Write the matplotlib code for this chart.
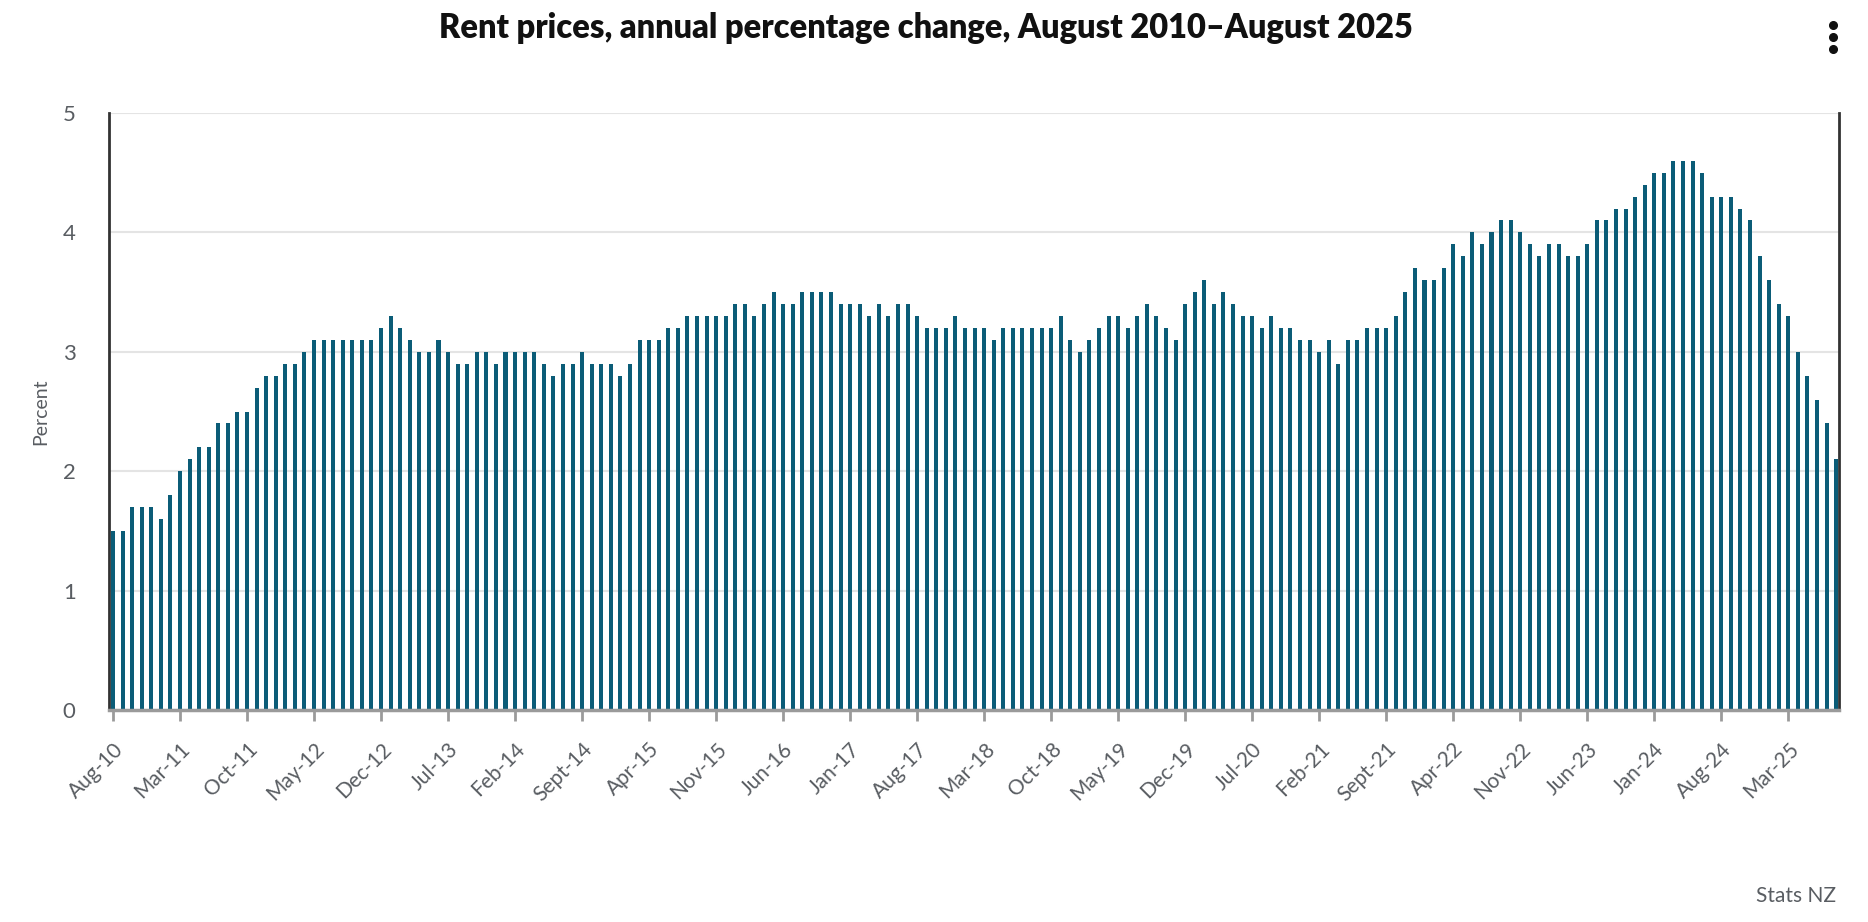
import matplotlib
matplotlib.use("Agg")
import matplotlib.pyplot as plt
from matplotlib.lines import Line2D

# Rent prices, annual % change, monthly Aug-2010 .. Aug-2025
rent_change = [
    1.5, 1.5, 1.7, 1.7, 1.7, 1.6, 1.8, 2.0, 2.1, 2.2, 2.2, 2.4, 2.4, 2.5, 2.5, 2.7,
    2.8, 2.8, 2.9, 2.9, 3.0, 3.1, 3.1, 3.1, 3.1, 3.1, 3.1, 3.1, 3.2, 3.3, 3.2, 3.1,
    3.0, 3.0, 3.1, 3.0, 2.9, 2.9, 3.0, 3.0, 2.9, 3.0, 3.0, 3.0, 3.0, 2.9, 2.8, 2.9,
    2.9, 3.0, 2.9, 2.9, 2.9, 2.8, 2.9, 3.1, 3.1, 3.1, 3.2, 3.2, 3.3, 3.3, 3.3, 3.3,
    3.3, 3.4, 3.4, 3.3, 3.4, 3.5, 3.4, 3.4, 3.5, 3.5, 3.5, 3.5, 3.4, 3.4, 3.4, 3.3,
    3.4, 3.3, 3.4, 3.4, 3.3, 3.2, 3.2, 3.2, 3.3, 3.2, 3.2, 3.2, 3.1, 3.2, 3.2, 3.2,
    3.2, 3.2, 3.2, 3.3, 3.1, 3.0, 3.1, 3.2, 3.3, 3.3, 3.2, 3.3, 3.4, 3.3, 3.2, 3.1,
    3.4, 3.5, 3.6, 3.4, 3.5, 3.4, 3.3, 3.3, 3.2, 3.3, 3.2, 3.2, 3.1, 3.1, 3.0, 3.1,
    2.9, 3.1, 3.1, 3.2, 3.2, 3.2, 3.3, 3.5, 3.7, 3.6, 3.6, 3.7, 3.9, 3.8, 4.0, 3.9,
    4.0, 4.1, 4.1, 4.0, 3.9, 3.8, 3.9, 3.9, 3.8, 3.8, 3.9, 4.1, 4.1, 4.2, 4.2, 4.3,
    4.4, 4.5, 4.5, 4.6, 4.6, 4.6, 4.5, 4.3, 4.3, 4.3, 4.2, 4.1, 3.8, 3.6, 3.4, 3.3,
    3.0, 2.8, 2.6, 2.4, 2.1,
]

tick_labels = [
    "Aug-10", "Mar-11", "Oct-11", "May-12", "Dec-12", "Jul-13", "Feb-14", "Sept-14",
    "Apr-15", "Nov-15", "Jun-16", "Jan-17", "Aug-17", "Mar-18", "Oct-18", "May-19",
    "Dec-19", "Jul-20", "Feb-21", "Sept-21", "Apr-22", "Nov-22", "Jun-23", "Jan-24",
    "Aug-24", "Mar-25",
]
tick_step = 7  # one label every seven months

BAR_COLOR = "#0b5c77"
TEXT_GREY = "#595d62"

plt.rcParams["font.family"] = ["Lato", "DejaVu Sans"]

fig = plt.figure(figsize=(18.68, 9.22), dpi=100)
ax = fig.add_axes([109 / 1868, 1 - 710 / 922, (1839 - 109) / 1868, (710 - 113) / 922])

x = list(range(len(rent_change)))
ax.bar(x, rent_change, width=0.42, color=BAR_COLOR, zorder=3)

ax.set_xlim(-0.42, len(rent_change) - 0.7)
ax.set_ylim(0, 5)
ax.set_yticks([0, 1, 2, 3, 4, 5])
ax.yaxis.grid(True, color="#e4e4e4", linewidth=1.5, zorder=0)
ax.set_axisbelow(True)

ax.set_xticks(x[::tick_step])
ax.set_xticklabels(tick_labels, rotation=45, ha="right", rotation_mode="anchor",
                   fontsize=15, color=TEXT_GREY)
ax.tick_params(axis="x", length=8, width=2, color="#9a9a9a", pad=13)
ax.tick_params(axis="y", length=0, pad=24, labelsize=16, labelcolor=TEXT_GREY)

for s in ["left", "right"]:
    ax.spines[s].set_color("#333333")
    ax.spines[s].set_linewidth(2)
ax.spines["top"].set_visible(False)
ax.spines["bottom"].set_color("#9a9a9a")
ax.spines["bottom"].set_linewidth(2.5)
ax.spines["bottom"].set_zorder(4)

ax.set_ylabel("Percent", fontsize=14, color=TEXT_GREY, labelpad=10)

fig.text(926 / 1868, 1 - 28 / 922, "Rent prices, annual percentage change, August 2010\u2013August 2025",
         ha="center", va="center", fontsize=23.5, fontweight="heavy", color="#111111")
fig.text(1836 / 1868, 1 - 896 / 922, "Stats NZ", ha="right", va="center",
         fontsize=15, color=TEXT_GREY)

# menu dots in the top right corner
for yy in [25, 37, 49]:
    fig.add_artist(Line2D([1833 / 1868], [1 - yy / 922], marker="o", markersize=5.5,
                          color="#111111", transform=fig.transFigure))

fig.savefig("out.png", dpi=100, facecolor="white")
